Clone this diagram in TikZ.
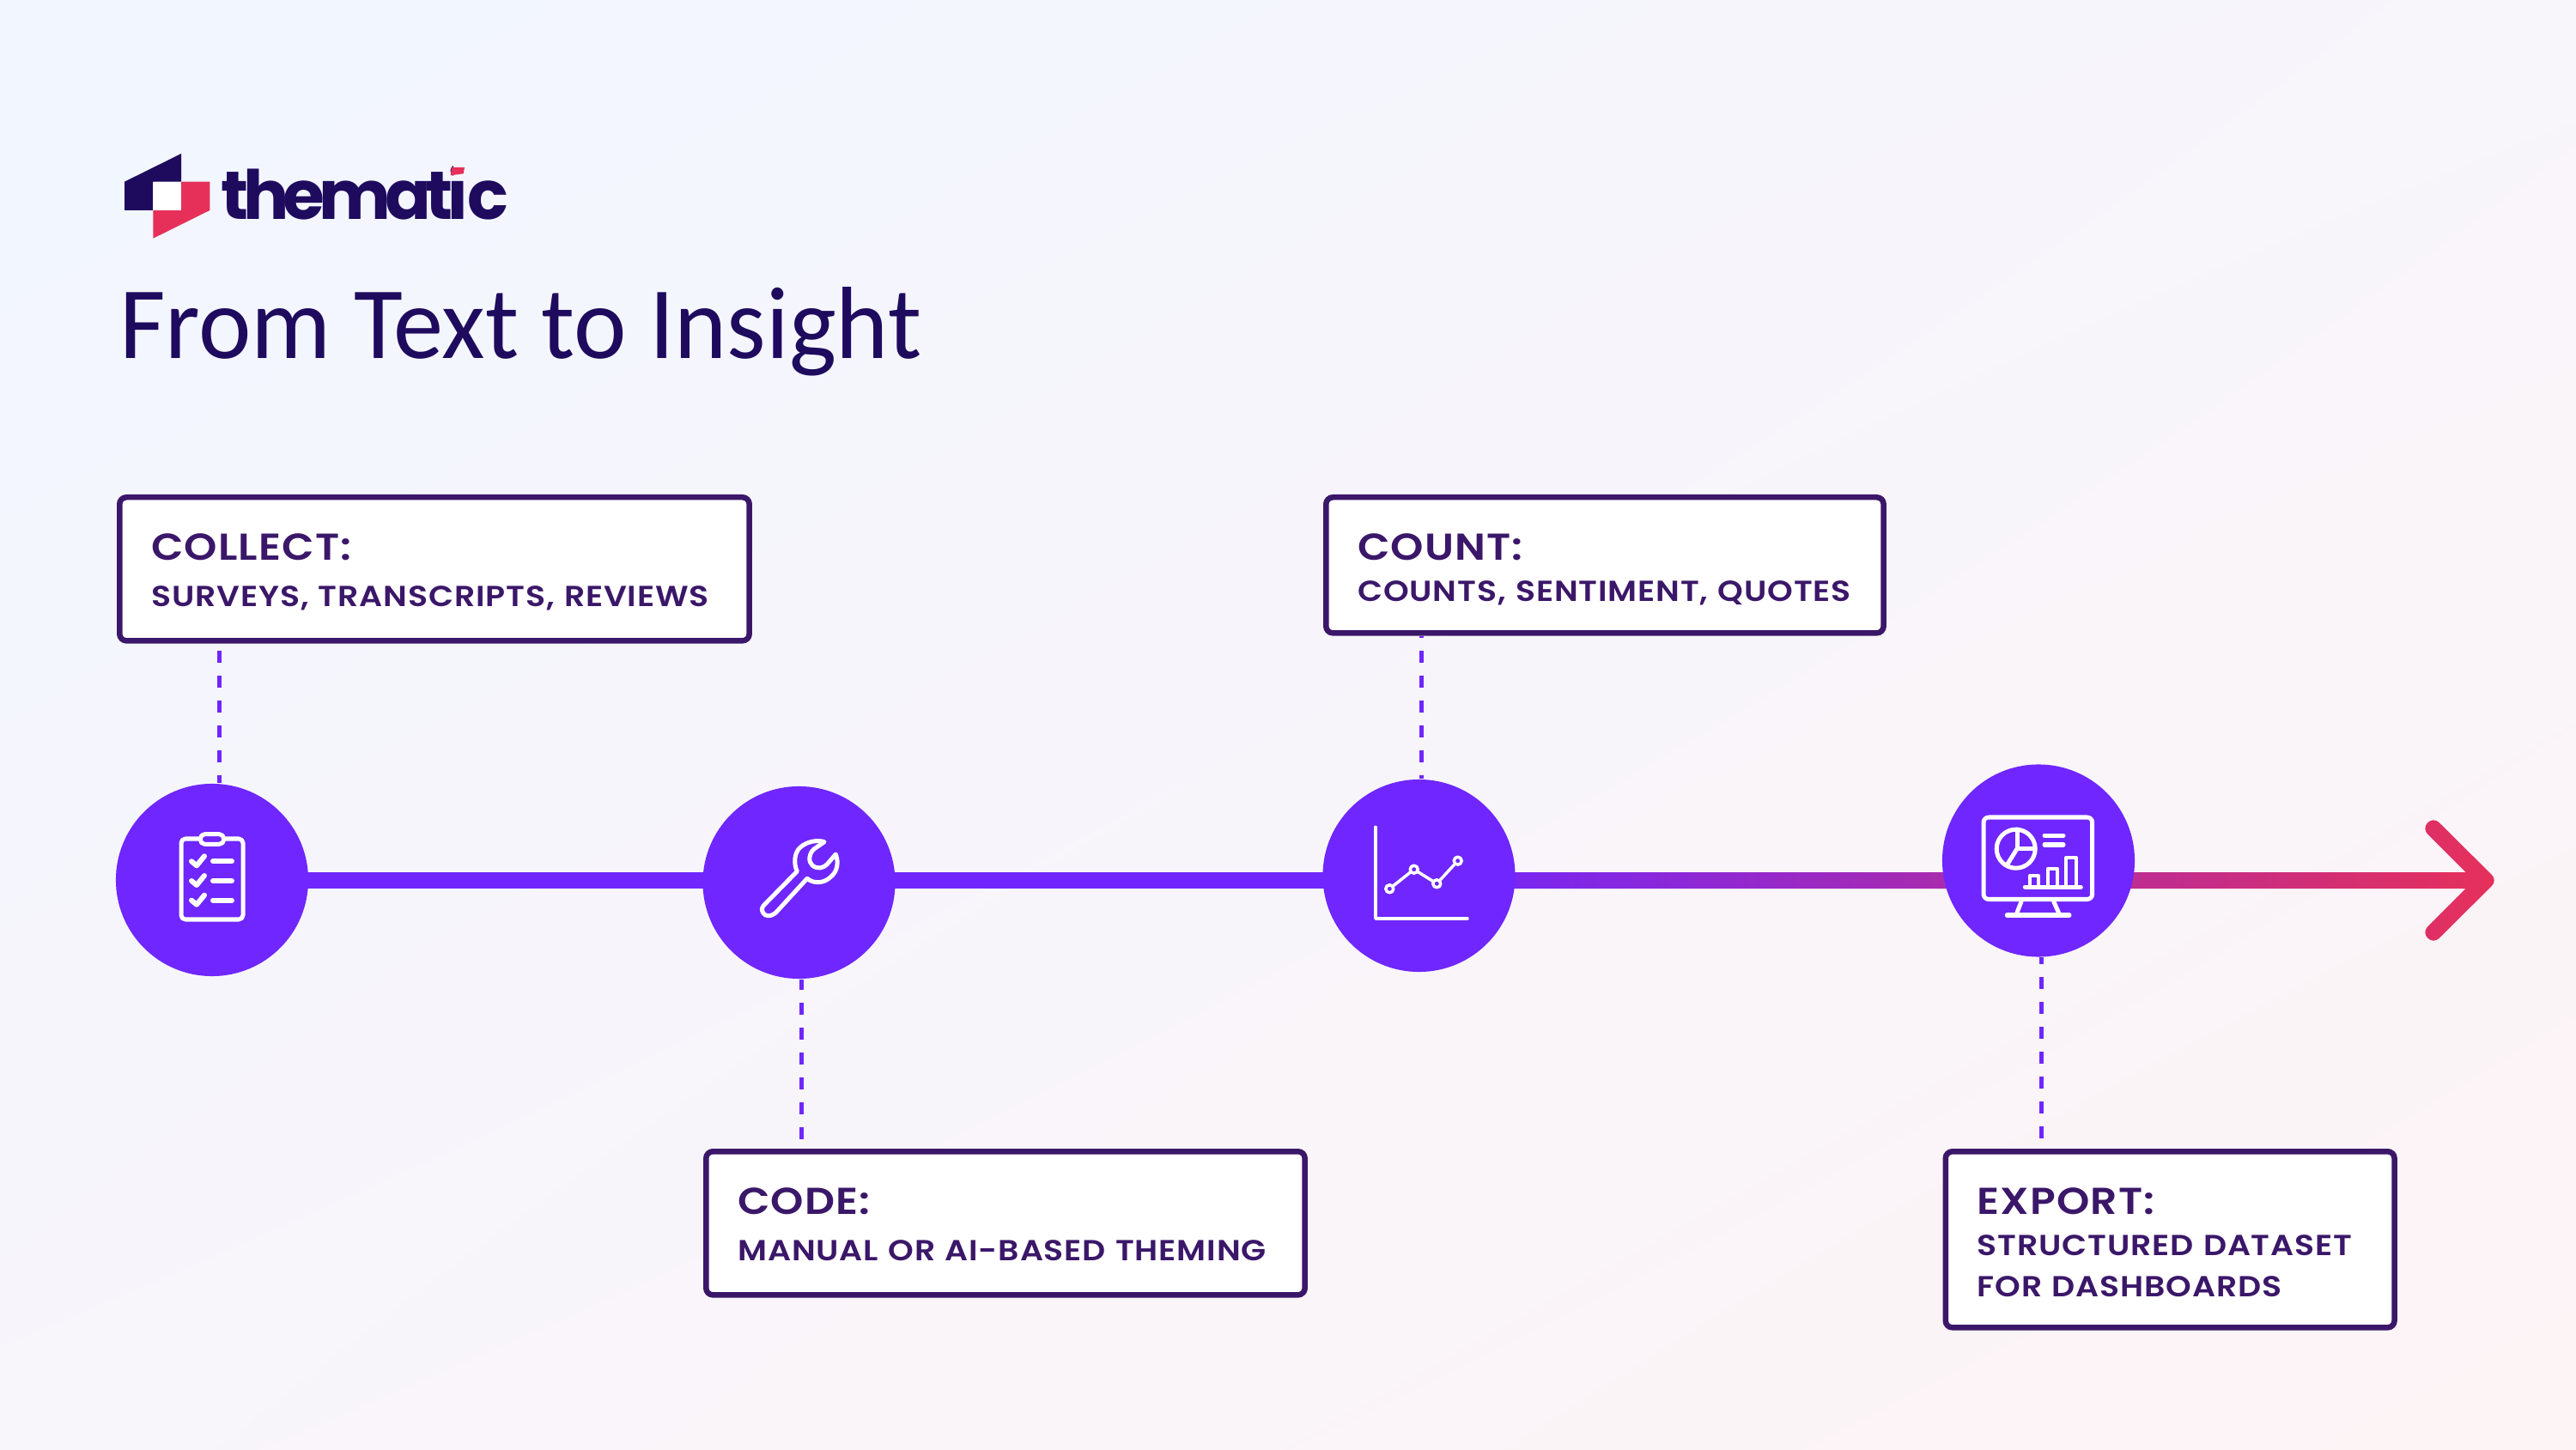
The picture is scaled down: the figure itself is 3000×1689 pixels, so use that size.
\documentclass[tikz,border=0pt]{standalone}
\usepackage{fontspec}
\usetikzlibrary{calc,backgrounds,shadings}
\newfontfamily\titlefont[FakeStretch=.974]{Carlito}
\newfontfamily\logofont[LetterSpace=-8.5]{Poppins Bold}
\newfontfamily\boxfont[LetterSpace=2.6,FakeStretch=1.12]{Poppins SemiBold}
\newcommand{\headfont}{\fontsize{12.4}{15}\selectfont}
\definecolor{dotpurple}{HTML}{6F26FF}
\definecolor{linered}{HTML}{E6305A}
\definecolor{logonavy}{HTML}{1E0B5E}
\definecolor{logobg}{HTML}{F4F5FD}
\definecolor{boxplum}{HTML}{3B1769}
\definecolor{bgblue}{HTML}{F1F6FF}
\definecolor{bgmid}{HTML}{F8F5FB}
\definecolor{bgpink}{HTML}{FDF4F5}
\tikzset{
  stepdot/.style={circle,fill=dotpurple,minimum size=2.24cm,inner sep=0pt},
  labelbox/.style={draw=boxplum,fill=white,line width=.065cm,rounded corners=.08cm,anchor=north west,align=left,inner xsep=.37cm,inner ysep=0pt,text=boxplum,font={\boxfont\fontsize{9.6}{13.66}\selectfont}},
  shaft/.style={draw=dotpurple,line width=.19cm},
  dropline/.style={draw=dotpurple,line width=.05cm,dash pattern=on .14cm off .15cm},
  icon/.style={draw=white,line width=.05cm,line cap=round,line join=round},
}
\begin{document}
\begin{tikzpicture}[x=.01cm,y=-.01cm]
  \node[stepdot] (collect) at (247,1025) {};
  \node[stepdot] (code) at (930.5,1028) {};
  \node[stepdot] (count) at (1652.5,1020) {};
  \node[stepdot] (export) at (2374,1002.5) {};
  \node[labelbox,text width=6.59cm,text height=.73cm,text depth=.94cm] (collect box) at (136,576) {{\headfont COLLECT:}\\[1.7pt]SURVEYS, TRANSCRIPTS, REVIEWS};
  \node[labelbox,text width=5.75cm,text height=.73cm,text depth=.85cm] (count box) at (1541,576) {{\headfont COUNT:}\\COUNTS, SENTIMENT, QUOTES};
  \node[labelbox,text width=6.23cm,text height=.73cm,text depth=.94cm] (code box) at (819,1338) {{\headfont CODE:}\\[1.7pt]MANUAL OR AI-BASED THEMING};
  \node[labelbox,text width=4.485cm,text height=.73cm,text depth=1.32cm] (export box) at (2262.5,1338) {{\headfont EXPORT:}\\STRUCTURED DATASET\\FOR DASHBOARDS};
  \coordinate (tip) at (2908.4,1025.5);
  \coordinate (collect drop) at (255,0);
  \coordinate (code drop) at (933.5,0);
  \coordinate (count drop) at (1655.7,0);
  \coordinate (export drop) at (2377.5,0);
  \begin{scope}[on background layer]
    \shade[upper left=bgblue,upper right=bgmid,lower left=bgmid,lower right=bgpink] (0,0) rectangle (3000,1689);
    \draw[shaft] (collect |- tip) -- (code |- tip);
    \draw[shaft] (code |- tip) -- (count |- tip);
    \shade[left color=dotpurple,right color=linered] ($(count |- tip)+(0,-9.5)$) -- ($(tip)+(-36.8,-9.5)$) [rounded corners=.09cm] -- ($(tip)+(-87.8,-60.5)$) -- ($(tip)+(-74.4,-73.9)$) -- (tip) -- ($(tip)+(-74.4,73.9)$) -- ($(tip)+(-87.8,60.5)$) [sharp corners] -- ($(tip)+(-36.8,9.5)$) -- ($(count |- tip)+(0,9.5)$) -- cycle;
    \draw[dropline,dash phase=.21cm] (collect box.south -| collect drop) -- (collect.north -| collect drop);
    \draw[dropline,dash phase=.12cm] (count box.south -| count drop) -- (count.north -| count drop);
    \draw[dropline,dash phase=.02cm] (code.south -| code drop) -- (code box.north -| code drop);
    \draw[dropline,dash phase=.06cm] (export.south -| export drop) -- (export box.north -| export drop);
  \end{scope}
  \fill[logonavy] (211,179) -- (145,211.7) -- (145,245) -- (178.3,245) -- (178.3,211.7) -- (211,211.7) -- cycle;
  \fill[linered] (211,211.7) -- (244.3,211.7) -- (244.3,245) -- (178.3,277.7) -- (178.3,245) -- (211,245) -- cycle;
  \fill[white] (178.3,211.7) rectangle (211,245);
  \node[anchor=base west,inner sep=0pt,text=logonavy,font={\logofont\fontsize{22.5}{24}\selectfont}] (logo word) at (257,255.7) {themati\llap{\textcolor{logobg}{\rule[.6em]{.2em}{.3em}}\hspace{.01em}}c};
  \fill[linered] (526,195) -- (541,195) -- (539.7,202.3) -- (524.7,204.3) -- cycle;
  \node[anchor=base west,inner sep=0pt,text=logonavy,font={\titlefont\fontsize{34}{38}\selectfont}] (title) at (138.5,418) {From Text to Insight};
  % clipboard
  \draw[icon,rounded corners=.05cm] (233,977) -- (211,977) -- (211,1071) -- (283,1071) -- (283,977) -- (261,977);
  \draw[icon,rounded corners=.05cm] (233.4,971.7) rectangle (260.6,983.3);
  \foreach \rowy in {1003.3,1026,1048.7} {
    \draw[icon,line width=.06cm] (223,\rowy) -- (229,\rowy+5) -- (238,\rowy-6);
    \draw[icon,line width=.06cm] (248,\rowy) -- (270,\rowy);
  }
  % wrench
  \draw[icon] (890.7,1053.3) -- (928.3,1015) .. controls (924,1006) and (925,993) .. (932,987) .. controls (940,980) and (952,978) .. (960,980.7) -- (948,989) .. controls (942,994) and (941,1004) .. (946,1008) .. controls (952,1013) and (959,1011) .. (963,1007) -- (973.3,995) .. controls (977,1005) and (975,1015) .. (968,1021) .. controls (960,1029) and (948,1030) .. (940,1023.3) -- (903.3,1063.3) .. controls (898,1068) and (891,1068) .. (888.5,1063) .. controls (886,1059) and (888,1056) .. (890.7,1053.3) -- cycle;
  % line chart
  \draw[icon,line width=.035cm] (1602,963.3) -- (1602,1070) -- (1709,1070);
  \draw[icon,line width=.035cm] (1618.3,1035.3) -- (1646.7,1012.7) -- (1673.3,1029.3) -- (1697.7,1002.7);
  \foreach \ptx/\pty in {1618.3/1035.3,1646.7/1012.7,1673.3/1029.3,1697.7/1002.7} {
    \draw[icon,line width=.035cm,fill=dotpurple] (\ptx,\pty) circle (.045cm);
  }
  % monitor
  \draw[icon,rounded corners=.06cm] (2310,952) rectangle (2436.7,1047.5);
  \draw[icon] (2354,1050) -- (2348.3,1065);
  \draw[icon] (2391.7,1050) -- (2398.3,1065);
  \draw[icon] (2337.3,1066) -- (2410,1066);
  \draw[icon] (2347.7,988.7) circle (.225cm);
  \draw[icon] (2349,966) -- (2349,988.7) -- (2370,988.7);
  \draw[icon] (2349,988.7) -- (2337,1008);
  \draw[icon] (2381,973.3) -- (2403,973.3);
  \draw[icon] (2381,984) -- (2403,984);
  \draw[icon] (2358.3,1033.3) -- (2423.3,1033.3);
  \draw[icon,line width=.04cm] (2364,1033) -- (2364,1020) -- (2374,1020) -- (2374,1033);
  \draw[icon,line width=.04cm] (2385,1033) -- (2385,1011.7) -- (2396,1011.7) -- (2396,1033);
  \draw[icon,line width=.04cm] (2406,1033) -- (2406,999.3) -- (2418,999.3) -- (2418,1033);
\end{tikzpicture}
\end{document}
